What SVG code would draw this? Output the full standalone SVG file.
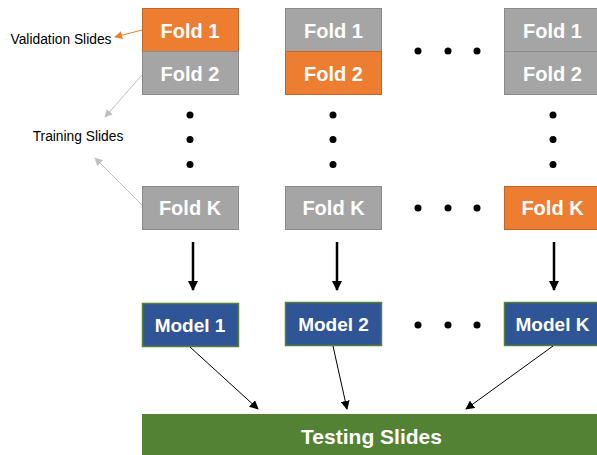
<svg xmlns="http://www.w3.org/2000/svg" width="597" height="455" viewBox="0 0 597 455">
<defs>
<style>
.fold{stroke-width:1}
.gray{fill:#A5A5A5;stroke:#8A8A8A}
.orange{fill:#ED7D31;stroke:#C0652A}
.model{fill:#2F5597;stroke:#548235;stroke-width:1.5}
.ft{font-family:"Liberation Sans",Arial,sans-serif;font-weight:bold;fill:#fff;text-anchor:middle}
.lbl{font-family:"Liberation Sans",Arial,sans-serif;font-size:13.8px;fill:#000;text-anchor:middle}
.dot{fill:#000}
</style>
<marker id="ab" viewBox="0 0 10 10" refX="9" refY="5" markerWidth="4" markerHeight="4" orient="auto" markerUnits="strokeWidth"><path d="M0,0 L10,5 L0,10 z" fill="#000"/></marker>
<marker id="ab2" viewBox="0 0 10 10" refX="9" refY="5" markerWidth="9" markerHeight="9" orient="auto" markerUnits="strokeWidth"><path d="M0,0 L10,5 L0,10 z" fill="#000"/></marker>
<marker id="ao" viewBox="0 0 10 10" refX="9" refY="5" markerWidth="8" markerHeight="8" orient="auto" markerUnits="strokeWidth"><path d="M0,0 L10,5 L0,10 z" fill="#ED7D31"/></marker>
<marker id="ag" viewBox="0 0 10 10" refX="9" refY="5" markerWidth="8" markerHeight="8" orient="auto" markerUnits="strokeWidth"><path d="M0,0 L10,5 L0,10 z" fill="#BFBFBF"/></marker>
</defs>
<rect width="597" height="455" fill="#fff"/>
<g id="col1">
<rect class="fold orange" x="142.5" y="8.5" width="96" height="43"/>
<text class="ft" x="190" y="38" font-size="20">Fold 1</text>
<rect class="fold gray" x="142.5" y="51.5" width="96" height="43"/>
<text class="ft" x="190" y="80.5" font-size="20">Fold 2</text>
<circle class="dot" cx="190" cy="115" r="3.5"/>
<circle class="dot" cx="190" cy="139.5" r="3.5"/>
<circle class="dot" cx="190" cy="164.5" r="3.5"/>
<rect class="fold gray" x="142.5" y="186.5" width="96" height="43"/>
<text class="ft" x="190" y="214.5" font-size="20">Fold K</text>
</g>
<g id="col2">
<rect class="fold gray" x="285.5" y="8.5" width="96" height="43"/>
<text class="ft" x="333.5" y="38" font-size="20">Fold 1</text>
<rect class="fold orange" x="285.5" y="51.5" width="96" height="43"/>
<text class="ft" x="333.5" y="80.5" font-size="20">Fold 2</text>
<circle class="dot" cx="333" cy="115" r="3.5"/>
<circle class="dot" cx="333" cy="139.5" r="3.5"/>
<circle class="dot" cx="333" cy="164.5" r="3.5"/>
<rect class="fold gray" x="285.5" y="186.5" width="96" height="43"/>
<text class="ft" x="333.5" y="214.5" font-size="20">Fold K</text>
</g>
<g id="col3">
<rect class="fold gray" x="504.5" y="8.5" width="96" height="43"/>
<text class="ft" x="552.5" y="38" font-size="20">Fold 1</text>
<rect class="fold gray" x="504.5" y="51.5" width="96" height="43"/>
<text class="ft" x="552.5" y="80.5" font-size="20">Fold 2</text>
<circle class="dot" cx="553" cy="115" r="3.5"/>
<circle class="dot" cx="553" cy="139.5" r="3.5"/>
<circle class="dot" cx="553" cy="164.5" r="3.5"/>
<rect class="fold orange" x="504.5" y="186.5" width="96" height="43"/>
<text class="ft" x="552.5" y="214.5" font-size="20">Fold K</text>
</g>
<g id="hdots">
<circle class="dot" cx="418" cy="51" r="3.5"/>
<circle class="dot" cx="448" cy="51" r="3.5"/>
<circle class="dot" cx="477" cy="51" r="3.5"/>
<circle class="dot" cx="418" cy="208" r="3.5"/>
<circle class="dot" cx="448" cy="208" r="3.5"/>
<circle class="dot" cx="477" cy="208" r="3.5"/>
<circle class="dot" cx="418" cy="325" r="3.5"/>
<circle class="dot" cx="448" cy="325" r="3.5"/>
<circle class="dot" cx="477" cy="325" r="3.5"/>
</g>
<g id="model1">
<rect class="model" x="142.5" y="303.5" width="96" height="43"/>
<text class="ft" x="190" y="332" font-size="19">Model 1</text>
</g>
<g id="model2">
<rect class="model" x="285.5" y="302.5" width="96" height="43"/>
<text class="ft" x="333.5" y="331" font-size="19">Model 2</text>
</g>
<g id="modelK">
<rect class="model" x="504.5" y="302.5" width="96" height="43"/>
<text class="ft" x="552.5" y="331" font-size="19">Model K</text>
</g>
<g id="testing">
<rect x="142" y="414" width="456" height="42" fill="#548235"/>
<text class="ft" x="371.5" y="443.5" font-size="21">Testing Slides</text>
</g>
<g id="labels">
<text class="lbl" x="61" y="44">Validation Slides</text>
<text class="lbl" x="78" y="141">Training Slides</text>
</g>
<g id="connectors" fill="none">
<line x1="193" y1="242" x2="193" y2="290" stroke="#000" stroke-width="2.5" marker-end="url(#ab)"/>
<line x1="337" y1="242" x2="337" y2="290" stroke="#000" stroke-width="2.5" marker-end="url(#ab)"/>
<line x1="554" y1="242" x2="554" y2="290" stroke="#000" stroke-width="2.5" marker-end="url(#ab)"/>
<line x1="190" y1="347" x2="258" y2="409" stroke="#000" stroke-width="1" marker-end="url(#ab2)"/>
<line x1="333" y1="346" x2="347" y2="409" stroke="#000" stroke-width="1" marker-end="url(#ab2)"/>
<line x1="553" y1="346" x2="466" y2="409" stroke="#000" stroke-width="1" marker-end="url(#ab2)"/>
<line x1="142" y1="30" x2="115" y2="37" stroke="#ED7D31" stroke-width="1" marker-end="url(#ao)"/>
<line x1="142" y1="75" x2="105" y2="117" stroke="#BFBFBF" stroke-width="1" marker-end="url(#ag)"/>
<line x1="142" y1="205" x2="95" y2="158" stroke="#BFBFBF" stroke-width="1" marker-end="url(#ag)"/>
</g>
</svg>
